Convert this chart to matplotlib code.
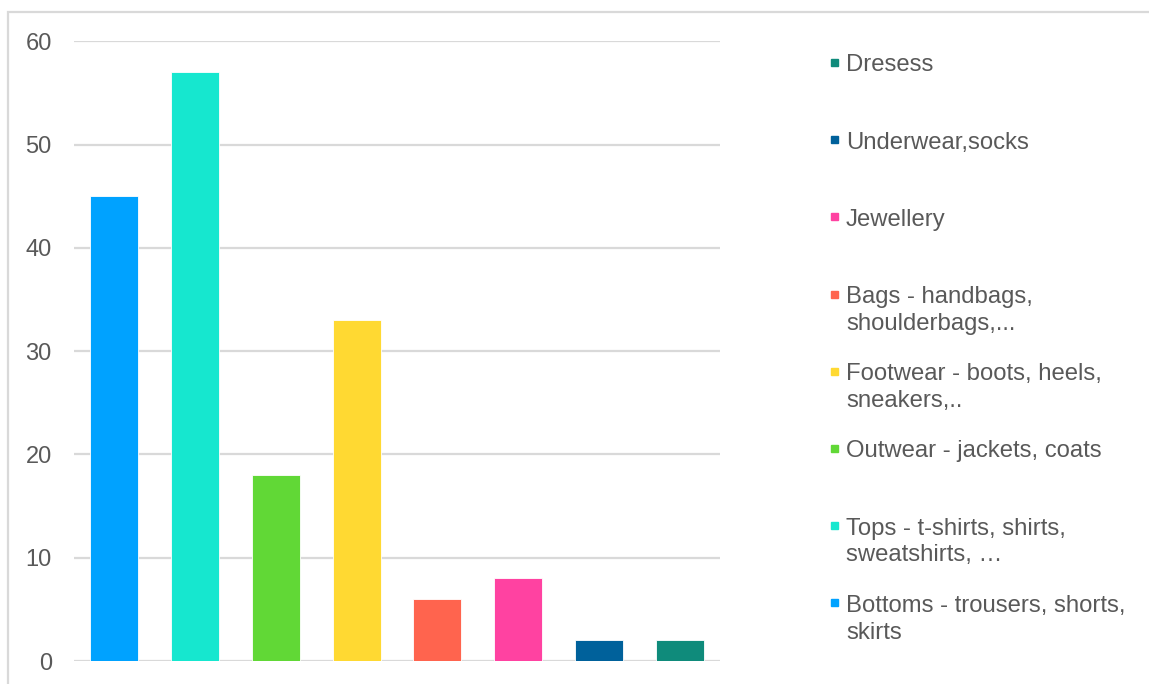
import matplotlib
matplotlib.use('Agg')
import matplotlib.pyplot as plt
from matplotlib.patches import Rectangle

plt.rcParams['font.family'] = ['Liberation Sans', 'DejaVu Sans']

categories = ['Bottoms - trousers, shorts,\nskirts',
              'Tops - t-shirts, shirts,\nsweatshirts, \u2026',
              'Outwear - jackets, coats',
              'Footwear - boots, heels,\nsneakers,..',
              'Bags - handbags,\nshoulderbags,...',
              'Jewellery',
              'Underwear,socks',
              'Dresess']
values = [45, 57, 18, 33, 6, 8, 2, 2]
colors = ['#00A2FF', '#16E7CF', '#61D836', '#FFD932',
          '#FF644E', '#FF42A1', '#00619B', '#0F8B7B']
yticks = [0, 10, 20, 30, 40, 50, 60]

W, H = 1149, 684
fig = plt.figure(figsize=(W / 100, H / 100), dpi=100)
ax = fig.add_axes([74 / W, 1 - 661 / H, (720 - 74) / W, (661 - 41.3) / H])

for i, (v, c, lab) in enumerate(zip(values, colors, categories)):
    ax.bar(i, v, width=0.594, color=c, edgecolor='#FFFFFF', linewidth=0.6,
           label=lab, zorder=3)

ax.set_xlim(-0.5, len(values) - 0.5)
ax.set_ylim(0, 60)
ax.set_yticks(yticks)
ax.set_xticks([])
ax.yaxis.grid(True, color='#D9D9D9', linewidth=1.6)
ax.set_axisbelow(True)
for s in ax.spines.values():
    s.set_visible(False)
ax.tick_params(axis='y', length=0, pad=16, labelsize=17, labelcolor='#595959')

# legend drawn by hand, last series on top like the spreadsheet does
txt_x = 846 / W
box_x = 831 / W
step = 77.2
line_h = 27
for k, i in enumerate(reversed(range(len(values)))):
    base = 71.3 + k * step
    for j, line in enumerate(categories[i].split('\n')):
        fig.text(txt_x, 1 - (base + j * line_h) / H, line, fontsize=17.2,
                 color='#595959', va='baseline', ha='left')
    mid = base - 8.8
    fig.add_artist(Rectangle((box_x, 1 - (mid + 3.5) / H), 7 / W, 7 / H,
                             transform=fig.transFigure, color=colors[i]))

# chart frame
fig.add_artist(Rectangle((8 / W, -0.05), 1.1, 1.05 - 12 / H, transform=fig.transFigure,
                         fill=False, edgecolor='#D9D9D9', linewidth=1.6))

fig.savefig('out.png', dpi=100)
